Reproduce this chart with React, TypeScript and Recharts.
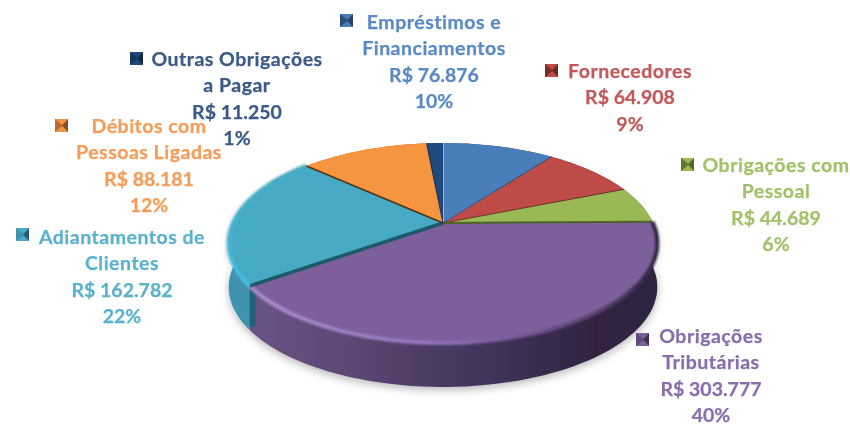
import { Pie, PieChart } from "recharts";

const categories = [
	"Empréstimos e Financiamentos",
	"Fornecedores",
	"Obrigações com Pessoal",
	"Obrigações Tributárias",
	"Adiantamentos de Clientes",
	"Débitos com Pessoas Ligadas",
	"Outras Obrigações a Pagar",
];
const nameLines = [
	["Empréstimos e", "Financiamentos"],
	["Fornecedores"],
	["Obrigações com", "Pessoal"],
	["Obrigações", "Tributárias"],
	["Adiantamentos de", "Clientes"],
	["Débitos com", "Pessoas Ligadas"],
	["Outras Obrigações", "a Pagar"],
];
const values = [76876, 64908, 44689, 303777, 162782, 88181, 11250];
const sliceColors = ["#4a7ebb", "#be4b48", "#98b954", "#7d5f9b", "#46aac4", "#f59540", "#1f497d"];
const wallColors = ["#2c4d75", "#772c2a", "#5f7530", "#5d4a78", "#3f93ae", "#b66d31", "#17375e"];
const edgeColors = ["#b4cbe6", "#2f4f78", "#6d2f2c", "#4f6228", "#1d5a68", "#4d3418", "#1b2f4f"];
const edgeWidths = [1.5, 1, 1, 2, 3.5, 1.5, 1];
const textColors = ["#5a8ac6", "#c4595a", "#a2c26a", "#8a6dac", "#5bb2cc", "#f89c57", "#3c5a87"];

// x centre of the text, y of the first baseline, marker x and y
const labelX = [434, 630, 776, 711, 122, 149, 237];
const labelY = [29, 78, 172, 343, 244, 133, 66];
const markerX = [340, 545, 681, 636, 16, 55, 130];
const markerY = [14, 64, 158, 333, 228, 119, 52];
const LINE_HEIGHT = 26.4;

const CX = 443;
const CY = 223;
const RADIUS = 210;
const SQUASH = 0.457;
const TILT = 0.2;
const DEPTH = 44;

const tableData = categories.map((name, i) => ({
	name,
	value: values[i],
	fill: sliceColors[i],
	colorIndex: i,
}));

const total = values.reduce((a, b) => a + b, 0);

// circle to tilted disc, the far side comes out smaller
function project(cx: number, cy: number, r: number, deg: number) {
	const u = Math.cos((deg * Math.PI) / 180);
	const v = Math.sin((deg * Math.PI) / 180);
	const w = 1 + TILT * v;
	return { x: cx + (r * u) / w, y: cy - (r * SQUASH * v) / w };
}

function arcPoints(cx: number, cy: number, r: number, start: number, end: number) {
	const steps = Math.max(2, Math.ceil(Math.abs(end - start) / 2));
	const pts = [];
	for (let i = 0; i <= steps; i++) {
		pts.push(project(cx, cy, r, start + ((end - start) * i) / steps));
	}
	return pts;
}

function toPath(pts: { x: number; y: number }[]) {
	return pts.map((p, i) => `${i ? "L" : "M"}${p.x.toFixed(1)},${p.y.toFixed(1)}`).join(" ");
}

function WallShape(props: any) {
	const { cx, cy, outerRadius, startAngle, endAngle } = props;
	const i = props.colorIndex ?? props.payload?.colorIndex ?? 0;
	const top = arcPoints(cx, cy, outerRadius, startAngle, endAngle);
	const bottom = top.map((p) => ({ x: p.x, y: p.y + DEPTH })).reverse();
	const path = toPath(top.concat(bottom)) + " Z";
	const fill = i === 3 ? "url(#purpleWall)" : wallColors[i];
	return (
		<g>
			<path d={path} fill={fill} filter={i >= 3 && i <= 4 ? "url(#wallShadow)" : undefined} />
			{i === 4 && (
				<path
					d={`M${top[0].x + 3},${top[0].y} L${top[0].x + 3},${top[0].y + DEPTH - 3}`}
					stroke="#1f6274"
					strokeWidth={6}
				/>
			)}
		</g>
	);
}

function TopShape(props: any) {
	const { cx, cy, outerRadius, startAngle, endAngle, fill } = props;
	const i = props.colorIndex ?? props.payload?.colorIndex ?? 0;
	const rim = arcPoints(cx, cy, outerRadius, startAngle, endAngle);
	const first = rim[0];
	const rimStroke = i === 3 ? "url(#purpleRim)" : i === 4 ? "url(#tealRim)" : undefined;
	return (
		<g>
			<path d={`M${cx},${cy} ${toPath(rim).replace("M", "L")} Z`} fill={fill} />
			<path d={`M${cx},${cy} L${first.x},${first.y}`} stroke={edgeColors[i]} strokeWidth={edgeWidths[i]} />
			{rimStroke && <path d={toPath(rim)} fill="none" stroke={rimStroke} strokeWidth={4} filter="url(#soften)" />}
		</g>
	);
}

function renderLabel(props: any) {
	const i = props.colorIndex ?? props.payload?.colorIndex ?? props.index;
	const money = "R$ " + String(values[i]).replace(/\B(?=(\d{3})+$)/g, ".");
	const pct = Math.round((values[i] / total) * 100) + "%";
	const names = nameLines[i];
	const lines = [...names, money, pct];
	return (
		<g key={categories[i]}>
			<rect x={markerX[i]} y={markerY[i]} width={13} height={13} fill={sliceColors[i]} />
			<path
				d={`M${markerX[i]},${markerY[i]} L${markerX[i] + 8},${markerY[i] + 6.5} L${markerX[i]},${markerY[i] + 13} Z`}
				fill={wallColors[i]}
			/>
			<path
				d={`M${markerX[i] + 13},${markerY[i]} L${markerX[i] + 7},${markerY[i] + 6.5} L${markerX[i] + 13},${markerY[i] + 13} Z`}
				fill="#000"
				opacity={0.45}
			/>
			<text
				textAnchor="middle"
				fontFamily="Lato, sans-serif"
				fontWeight={700}
				fontSize={19.5}
				fill={textColors[i]}
				stroke={textColors[i]}
				strokeWidth={0.25}
			>
				{lines.map((line, n) => (
					<tspan key={n} x={labelX[i]} y={labelY[i] + n * LINE_HEIGHT} letterSpacing={n < names.length ? 0.5 : 0}>
						{line}
					</tspan>
				))}
			</text>
		</g>
	);
}

export default function App() {
	return (
		<div style={{ position: "absolute", left: 0, top: 0, width: 850, height: 427, background: "#fff", filter: "blur(0.45px)" }}>
			<PieChart width={850} height={427} margin={{ top: 0, right: 0, bottom: 0, left: 0 }}>
				<defs>
					<linearGradient id="purpleWall" gradientUnits="userSpaceOnUse" x1={250} y1={0} x2={656} y2={0}>
						<stop offset="0" stopColor="#6a5488" />
						<stop offset="0.3" stopColor="#57446f" />
						<stop offset="0.6" stopColor="#41325a" />
						<stop offset="0.85" stopColor="#30243f" />
						<stop offset="1" stopColor="#2f2540" />
					</linearGradient>
					<linearGradient id="purpleRim" gradientUnits="userSpaceOnUse" x1={250} y1={0} x2={656} y2={0}>
						<stop offset="0" stopColor="#a88fd0" />
						<stop offset="0.45" stopColor="#9274bb" />
						<stop offset="0.7" stopColor="#6d5290" />
						<stop offset="0.9" stopColor="#4a3a60" />
						<stop offset="1" stopColor="#2f2540" />
					</linearGradient>
					<linearGradient id="tealRim" gradientUnits="userSpaceOnUse" x1={0} y1={170} x2={0} y2={290}>
						<stop offset="0" stopColor="#46aac4" />
						<stop offset="0.5" stopColor="#48b4d2" />
						<stop offset="1" stopColor="#45bfe3" />
					</linearGradient>
					<filter id="wallShadow" x="-20%" y="-20%" width="140%" height="150%">
						<feDropShadow dx={0} dy={3} stdDeviation={4} floodColor="#000" floodOpacity={0.28} />
					</filter>
					<filter id="soften" x="-10%" y="-10%" width="120%" height="120%">
						<feGaussianBlur stdDeviation={0.9} />
					</filter>
				</defs>
				<Pie
					data={tableData}
					dataKey="value"
					nameKey="name"
					cx={CX}
					cy={CY}
					innerRadius={0}
					outerRadius={RADIUS}
					startAngle={90}
					endAngle={-270}
					stroke="none"
					shape={WallShape}
					isAnimationActive={false}
				/>
				<Pie
					data={tableData}
					dataKey="value"
					nameKey="name"
					cx={CX}
					cy={CY}
					innerRadius={0}
					outerRadius={RADIUS}
					startAngle={90}
					endAngle={-270}
					stroke="none"
					shape={TopShape}
					label={renderLabel}
					labelLine={false}
					isAnimationActive={false}
				/>
			</PieChart>
		</div>
	);
}
